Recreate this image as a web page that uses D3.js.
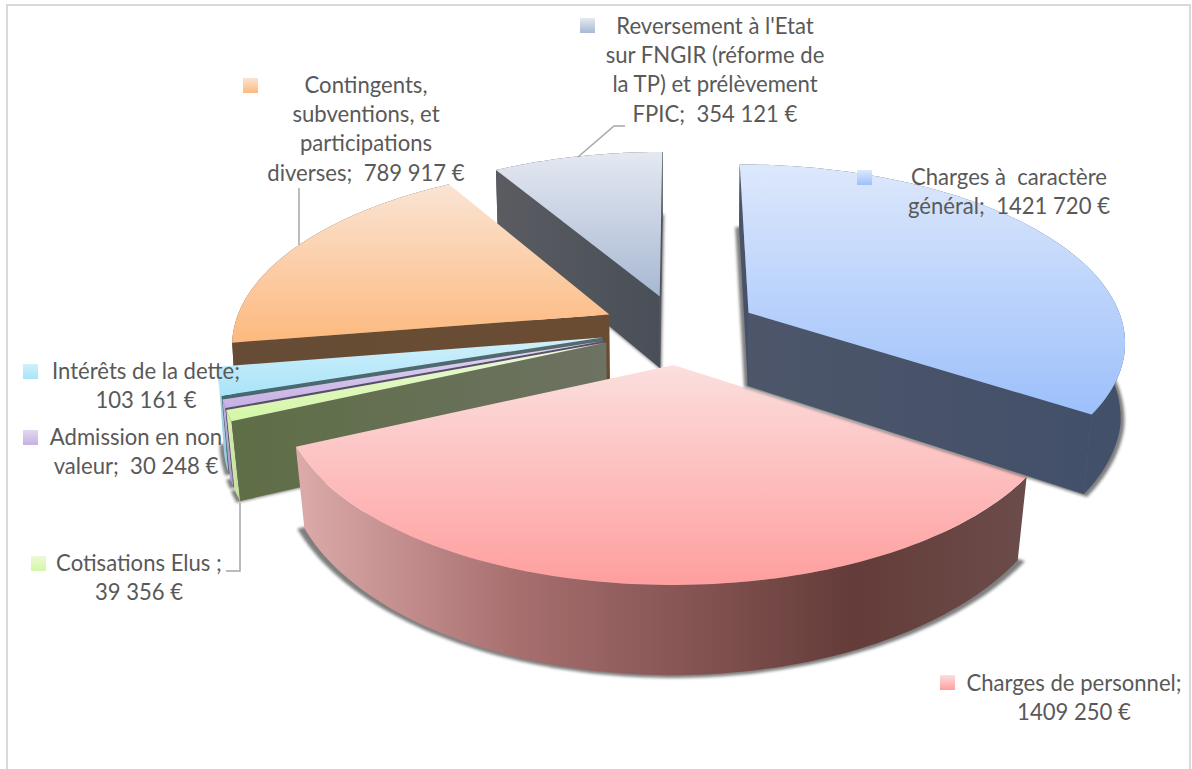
<!DOCTYPE html>
<html>
<head>
<meta charset="utf-8">
<script src="https://cdn.jsdelivr.net/npm/d3@7"></script>
<style>
  html, body { margin: 0; padding: 0; background: #fff; }
  svg { display: block; }
  text { font-family: Lato, "Open Sans", sans-serif; font-size: 22.1px; fill: #595959; white-space: pre; }
</style>
</head>
<body>
<div id="chart"></div>
<script>
// data
const categories = ["Charges à caractère général", "Charges de personnel", "Cotisations Elus", "Admission en non valeur", "Intérêts de la dette", "Contingents, subventions, et participations diverses", "Reversement à l'Etat sur FNGIR (réforme de la TP) et prélèvement FPIC"];
const values = [1421720, 1409250, 39356, 30248, 103161, 789917, 354121];
const labelLines = [
    ["Charges à  caractère", "général;  1421 720 €"],
    ["Charges de personnel;", "1409 250 €"],
    ["Cotisations Elus ;", "39 356 €"],
    ["Admission en non", "valeur;  30 248 €"],
    ["Intérêts de la dette;", "103 161 €"],
    ["Contingents,", "subventions, et", "participations", "diverses;  789 917 €"],
    ["Reversement à l'Etat", "sur FNGIR (réforme de", "la TP) et prélèvement", "FPIC;  354 121 €"]
];

// styles, same order as the data
const topColors = [["#dde8fb", "#9cc0fb"], ["#fbdfde", "#ff9e9e"], ["#ecf9d8", "#d3f7a6"], ["#e2d9f0", "#c6b0e3"], ["#d0f0fb", "#a8e4f9"], ["#fae4d4", "#fdb97e"], ["#e4e9f1", "#a8b8d3"]];
const rimColors = [["#43506a", "#43506a"], null, ["#d6eeb0", "#c4dc9c"], ["#c0aee0", "#a898c8"], ["#a8d8e8", "#90c8d8"], ["#664c36", "#664c36"], ["#4e5158", "#4b5058"]];
const faceColors = [["#4d5669", "#43506a"], ["#6b4c4a", "#6b4c4a"], ["#5e6e46", "#6d7262"], ["#5b4d6b", "#5b4d6b"], ["#466870", "#556a70"], ["#664c36", "#6a4c32"], ["#5a5c61", "#494f58"]];
const labelPos = [
    {x: 1009, y: 185, mx: 857, my: 170},
    {x: 1074, y: 691, mx: 940, my: 675},
    {x: 139, y: 571, mx: 31, my: 556},
    {x: 136, y: 445, mx: 23, my: 430},
    {x: 146, y: 379, mx: 23, my: 364},
    {x: 366, y: 93, mx: 243, my: 78},
    {x: 715, y: 34, mx: 580, my: 18}
];
const leaders = [
    {i: 6, pts: [[578, 157], [614, 126], [625, 126]]},
    {i: 5, pts: [[299, 245], [299, 188]]},
    {i: 2, pts: [[240, 503], [240, 571], [226, 571]]}
];

const width = 1192, height = 769;
// projection of the tilted disc
const cx = 680, cy = 329, radX = 376, radY = 175, persp = 0.15, explodeX = 0.21, explodeY = 0.2, depth = 74;
const lineH = 29.2;

const svg = d3.select("#chart").append("svg").attr("width", width).attr("height", height);
const defs = svg.append("defs");

function grad(id, colors, horizontal, stops) {
    const g = defs.append("linearGradient").attr("id", id)
        .attr("x1", 0).attr("y1", 0)
        .attr("x2", horizontal ? 1 : 0).attr("y2", horizontal ? 0 : 1);
    colors.forEach((c, i) => {
        g.append("stop").attr("offset", stops ? stops[i] : i / (colors.length - 1)).attr("stop-color", c);
    });
}

defs.append("filter").attr("id", "blur")
    .attr("x", "-10%").attr("y", "-10%").attr("width", "120%").attr("height", "120%")
    .append("feGaussianBlur").attr("stdDeviation", 1.8);

// frame
svg.append("rect").attr("x", 7).attr("y", 5).attr("width", 1183).attr("height", 790)
    .attr("fill", "#fff").attr("stroke", "#d9d9d9").attr("stroke-width", 2);

const arcs = d3.pie().sort(null).value(d => d)(values);
const line = d3.line();

function project(a, r, mid, low) {
    const X = r * Math.sin(a) + explodeX * Math.sin(mid);
    const Y = -r * Math.cos(a) - explodeY * Math.cos(mid);
    const f = 1 / (1 - persp * Y);
    // lower face narrows a little, more toward the viewer
    const shrink = low ? Math.min(0.99, 0.993 - 0.025 * Y) : 1;
    return [cx + radX * X * f * shrink, cy + radY * Y * f + (low ? depth * f : 0)];
}

function rimPoints(d, mid, low) {
    const n = Math.max(2, Math.ceil((d.endAngle - d.startAngle) / 0.02));
    return d3.range(n + 1).map(i => {
        const a = d.startAngle + (d.endAngle - d.startAngle) * i / n;
        return project(a, 1, mid, low);
    });
}

function facePoints(a, mid) {
    return [project(a, 0, mid, false), project(a, 1, mid, false), project(a, 1, mid, true), project(a, 0, mid, true)];
}

// soft shadow: lower face, slightly enlarged around its own middle
function shadowPoints(d, mid) {
    const pts = [project(d.startAngle, 0, mid, true)].concat(rimPoints(d, mid, true));
    const ex = d3.extent(pts, p => p[0]), ey = d3.extent(pts, p => p[1]);
    const mx = (ex[0] + ex[1]) / 2, my = (ey[0] + ey[1]) / 2;
    return pts.map(p => [mx + (p[0] - mx) * 1.02, my + (p[1] - my) * 1.015 + 1]);
}

arcs.forEach((d, i) => {
    grad("top" + i, topColors[i], false);
    grad("face" + i, faceColors[i], true);
    if (rimColors[i]) grad("rim" + i, rimColors[i], true);
});
// the big front slice has a strong highlight along its side
grad("rim1", ["#dcabaa", "#a86f6f", "#643c39", "#6b4c4a"], true, [0, 0.3, 0.76, 1]);

// back to front
const drawOrder = [6, 5, 4, 3, 2, 1, 0];
drawOrder.forEach(i => {
    const d = arcs[i];
    const mid = (d.startAngle + d.endAngle) / 2;
    const g = svg.append("g").attr("class", "slice");

    g.append("path").attr("d", line(shadowPoints(d, mid)) + "Z")
        .attr("fill", "#000").attr("opacity", 0.5).attr("filter", "url(#blur)");

    const rimTop = rimPoints(d, mid, false);
    const rimLow = rimPoints(d, mid, true).reverse();
    g.append("path").attr("d", line(rimTop.concat(rimLow)) + "Z").attr("fill", `url(#rim${i})`);

    // only the cut faces turned to the viewer (polygonArea is y-up, so signs flip on screen)
    const startFace = facePoints(d.startAngle, mid), endFace = facePoints(d.endAngle, mid);
    if (d3.polygonArea(startFace) > 0) g.append("path").attr("d", line(startFace) + "Z").attr("fill", `url(#face${i})`);
    if (d3.polygonArea(endFace) < 0) g.append("path").attr("d", line(endFace) + "Z").attr("fill", `url(#face${i})`)
        .attr("stroke", faceColors[i][1]).attr("stroke-width", 0.6);

    g.append("path")
        .attr("d", line([project(d.startAngle, 0, mid, false)].concat(rimTop)) + "Z")
        .attr("fill", `url(#top${i})`);
});

// leader lines
leaders.forEach(l => {
    svg.append("path").attr("d", line(l.pts)).attr("fill", "none")
        .attr("stroke", "#a6a6a6").attr("stroke-width", 1.5);
});

// labels
labelPos.forEach((p, i) => {
    svg.append("rect").attr("x", p.mx).attr("y", p.my).attr("width", 15).attr("height", 15)
        .attr("fill", `url(#top${i})`);
    const t = svg.append("text").attr("text-anchor", "middle");
    labelLines[i].forEach((s, k) => {
        t.append("tspan").attr("x", p.x).attr("y", p.y + k * lineH).text(s);
    });
});
</script>
</body>
</html>
